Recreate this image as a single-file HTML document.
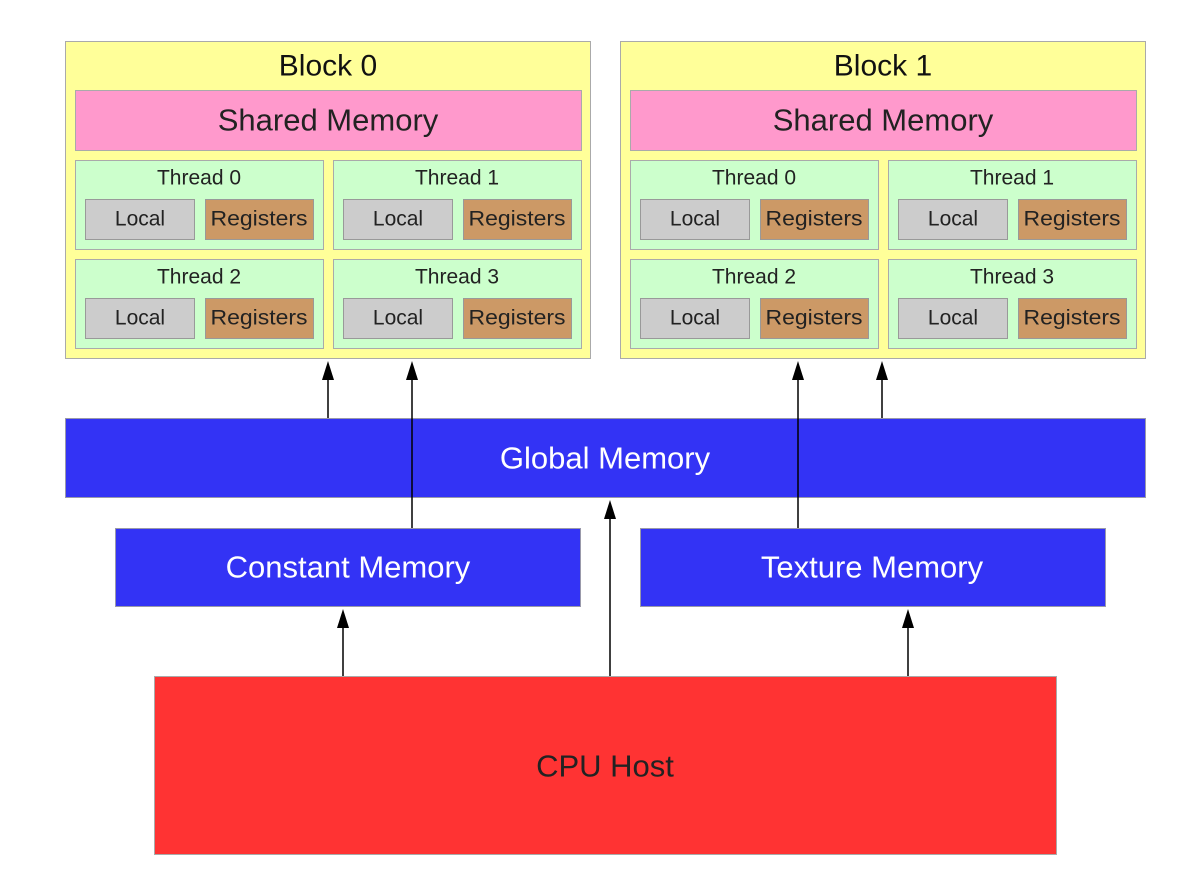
<!DOCTYPE html>
<html><head><style>body{margin:0;background:#fff}svg{display:block}text{font-family:"Liberation Sans",sans-serif;text-anchor:middle;dominant-baseline:central}</style></head><body>
<svg width="1198" height="892" xmlns="http://www.w3.org/2000/svg">
<defs>
<g id="blk">
<rect x="65.5" y="41.5" width="525" height="317" fill="#ffff99" stroke="#aaa"/>
<rect x="75.5" y="90.5" width="506" height="60" fill="#ff99cc" stroke="#aaa"/>
<text x="328" y="120" font-size="31" fill="#222">Shared Memory</text>
<g font-size="21" fill="#222">
<rect x="75.5" y="160.5" width="248" height="89" fill="#ccffcc" stroke="#aaa"/><text x="199" y="178">Thread 0</text>
<rect x="85.5" y="199.5" width="109" height="40" fill="#cccccc" stroke="#999"/><text x="140" y="219">Local</text>
<rect x="205.5" y="199.5" width="108" height="40" fill="#cc9966" stroke="#999"/><text x="259" y="219" textLength="97" lengthAdjust="spacingAndGlyphs">Registers</text>
<rect x="333.5" y="160.5" width="248" height="89" fill="#ccffcc" stroke="#aaa"/><text x="457" y="178">Thread 1</text>
<rect x="343.5" y="199.5" width="109" height="40" fill="#cccccc" stroke="#999"/><text x="398" y="219">Local</text>
<rect x="463.5" y="199.5" width="108" height="40" fill="#cc9966" stroke="#999"/><text x="517" y="219" textLength="97" lengthAdjust="spacingAndGlyphs">Registers</text>
<rect x="75.5" y="259.5" width="248" height="89" fill="#ccffcc" stroke="#aaa"/><text x="199" y="277">Thread 2</text>
<rect x="85.5" y="298.5" width="109" height="40" fill="#cccccc" stroke="#999"/><text x="140" y="318">Local</text>
<rect x="205.5" y="298.5" width="108" height="40" fill="#cc9966" stroke="#999"/><text x="259" y="318" textLength="97" lengthAdjust="spacingAndGlyphs">Registers</text>
<rect x="333.5" y="259.5" width="248" height="89" fill="#ccffcc" stroke="#aaa"/><text x="457" y="277">Thread 3</text>
<rect x="343.5" y="298.5" width="109" height="40" fill="#cccccc" stroke="#999"/><text x="398" y="318">Local</text>
<rect x="463.5" y="298.5" width="108" height="40" fill="#cc9966" stroke="#999"/><text x="517" y="318" textLength="97" lengthAdjust="spacingAndGlyphs">Registers</text>
</g></g>
</defs>
<use href="#blk"/>
<text x="328" y="66" font-size="30" fill="#111">Block 0</text>
<use href="#blk" transform="translate(555,0)"/>
<text x="883" y="66" font-size="30" fill="#111">Block 1</text>
<rect x="65.5" y="418.5" width="1080" height="79" fill="#3333f5" stroke="#99a"/>
<text x="605" y="458" font-size="31" fill="#fff">Global Memory</text>
<rect x="115.5" y="528.5" width="465" height="78" fill="#3333f5" stroke="#99a"/>
<text x="348" y="567" font-size="31" fill="#fff">Constant Memory</text>
<rect x="640.5" y="528.5" width="465" height="78" fill="#3333f5" stroke="#99a"/>
<text x="872" y="567" font-size="31" fill="#fff">Texture Memory</text>
<rect x="154.5" y="676.5" width="902" height="178" fill="#ff3333" stroke="#aaa"/>
<text x="605" y="766" font-size="31" fill="#222">CPU Host</text>
<g stroke="#000" stroke-width="1.5">
<line x1="328" y1="418" x2="328" y2="375"/>
<line x1="412" y1="528" x2="412" y2="375"/>
<line x1="798" y1="528" x2="798" y2="375"/>
<line x1="882" y1="418" x2="882" y2="375"/>
<line x1="610" y1="676" x2="610" y2="515"/>
<line x1="343" y1="676" x2="343" y2="625"/>
<line x1="908" y1="676" x2="908" y2="625"/>
</g>
<g fill="#000">
<path d="M322,380 L328,361 L334,380Z"/>
<path d="M406,380 L412,361 L418,380Z"/>
<path d="M792,380 L798,361 L804,380Z"/>
<path d="M876,380 L882,361 L888,380Z"/>
<path d="M604,519 L610,500 L616,519Z"/>
<path d="M337,628 L343,609 L349,628Z"/>
<path d="M902,628 L908,609 L914,628Z"/>
</g>
</svg></body></html>
